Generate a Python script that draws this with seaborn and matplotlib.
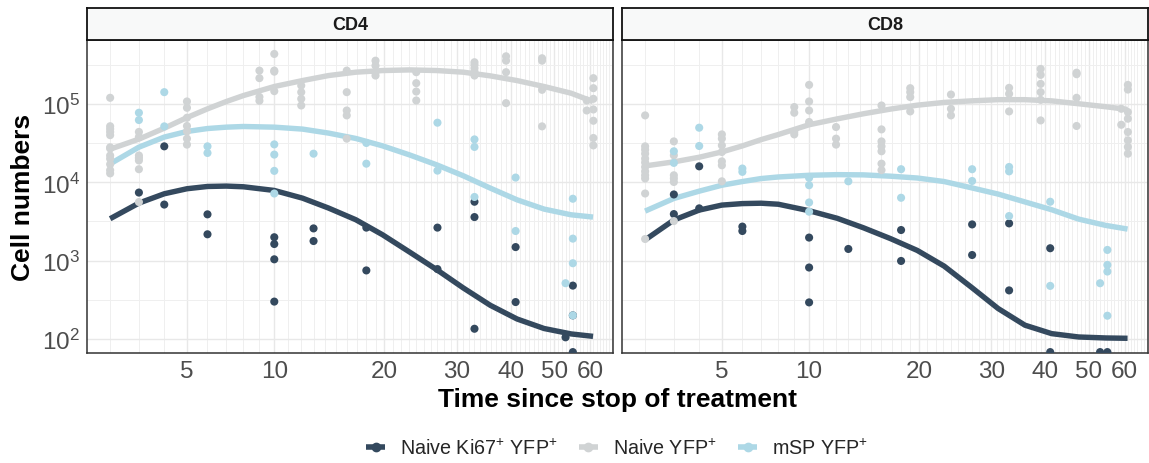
import numpy as np
import pandas as pd
import matplotlib
matplotlib.use("Agg")
import matplotlib.pyplot as plt
import seaborn as sns
from matplotlib.lines import Line2D

# ---------------- data ----------------
panels = ["CD4", "CD8"]
populations = ["Naive Ki67+ YFP+", "Naive YFP+", "mSP YFP+"]
legend_labels = [r"Naive Ki67$\mathregular{^{+}}$ YFP$\mathregular{^{+}}$",
                 r"Naive YFP$\mathregular{^{+}}$",
                 r"mSP YFP$\mathregular{^{+}}$"]
colors = ["#34495e", "#d0d3d4", "#add8e6"]

x_major_ticks = [5, 10, 20, 30, 40, 50, 60]
y_major_ticks = [1e2, 1e3, 1e4, 1e5]
y_tick_labels = [r"$\mathregular{10^{2}}$", r"$\mathregular{10^{3}}$",
                 r"$\mathregular{10^{4}}$", r"$\mathregular{10^{5}}$"]

# --- CD4 observed points ---
cd4_ki67_t = [3, 4, 4, 6, 6, 10, 10, 10, 10, 13, 13, 18, 18, 27, 27, 33, 33, 33, 41, 41, 53, 55, 55, 55]
cd4_ki67_v = [7400, 28800, 5200, 3900, 2170, 1990, 1630, 1040, 300, 2580, 1780, 2640, 750, 2640, 780,
              5650, 3600, 135, 1490, 296, 105, 480, 200, 68]
cd4_naive_t = [2]*12 + [3]*7 + [5]*7 + [9]*4 + [10]*4 + [12]*4 + [16]*5 + [19]*4 + [24]*4 + [33]*5 + [39]*4 + [47]*4 + [59]*2 + [61]*7
cd4_naive_v = [120000, 52000, 48000, 44000, 40000, 28000, 27000, 22000, 20000, 17000, 14300, 13000,
               44000, 38000, 22000, 20500, 19000, 14700, 5600,
               107700, 89500, 66700, 52400, 44700, 36100, 30300,
               266700, 213800, 123000, 110000,
               435500, 266700, 258800, 145900,
               171800, 141600, 116400, 95700,
               266700, 141600, 82600, 71500, 36100,
               357300, 309000, 254700, 230700,
               254700, 184500, 144200, 110900,
               341200, 315500, 286400, 259400, 230700,
               406400, 357300, 254700, 102600,
               383700, 357300, 151700, 51800,
               110900, 82600,
               213800, 159200, 116400, 85100, 61100, 36800, 29600]
cd4_msp_t = [3, 3, 4, 4, 6, 6, 10, 10, 10, 10, 13, 18, 18, 27, 27, 33, 33, 33, 41, 41, 53, 55, 55, 55, 55]
cd4_msp_v = [77300, 62400, 141600, 51800, 28800, 23700, 30500, 22600, 14000, 7200, 23200, 31800, 17300,
             57700, 14100, 35300, 28300, 6500, 11500, 2390, 515, 6170, 1910, 927, 200]

# --- CD8 observed points ---
cd8_ki67_t = [3, 3, 4, 4, 6, 6, 10, 10, 10, 13, 18, 18, 27, 27, 33, 33, 41, 41, 53, 55]
cd8_ki67_v = [7000, 3930, 16000, 4650, 2720, 2390, 1970, 817, 293, 1410, 2460, 991, 2900, 1180,
              2990, 417, 1440, 68, 68, 68]
cd8_naive_t = [2]*12 + [3]*6 + [5]*7 + [9]*4 + [10]*4 + [12]*3 + [16]*7 + [19]*4 + [24]*3 + [33]*3 + [39]*6 + [47]*4 + [59]*2 + [61]*8
cd8_naive_v = [71500, 28800, 26100, 23200, 20100, 17900, 15700, 13800, 12300, 11200, 7200, 1890,
               33300, 22100, 12300, 11200, 10100, 3200,
               40900, 36100, 29600, 24400, 18500, 16500, 10300,
               91400, 77300, 43900, 40900,
               175400, 107700, 82600, 58900,
               50800, 36100, 30300,
               95700, 47400, 33300, 28800, 24900, 17300, 14300,
               159200, 141600, 122500, 80400,
               132100, 86900, 71500,
               160700, 134900, 80400,
               280500, 235500, 180700, 141600, 113000, 61700,
               251000, 240000, 120000, 52400,
               86900, 54300,
               175400, 152800, 78900, 64900, 43900, 34400, 28300, 23200]
cd8_msp_t = [3, 3, 4, 4, 6, 6, 10, 10, 10, 10, 13, 18, 18, 27, 27, 33, 33, 33, 41, 41, 53, 55, 55, 55, 55]
cd8_msp_v = [24900, 17700, 49800, 29100, 15000, 13600, 11400, 9180, 5530, 4220, 10300, 14700, 6350,
             14700, 10400, 15700, 13800, 3710, 5650, 476, 515, 1370, 881, 726, 198]

# --- fitted curves ---
fit_t = [2, 3, 4, 5, 6, 7, 8, 10, 12.1, 14.3, 16.9, 19.8, 23.1, 26.9, 31.1, 35.9, 41.3, 47.5, 54.5, 60.9]
cd4_ki67_fit_v = [3430, 5430, 7140, 8280, 8850, 8950, 8770, 7870, 6280, 4690, 3330, 2140, 1290, 766,
                  447, 269, 180, 136, 116, 108]
cd4_naive_fit_v = [26500, 35600, 49100, 67100, 86700, 107400, 128200, 167100, 199100, 230700, 254700,
                   267300, 272300, 267300, 254700, 228600, 199100, 167100, 137400, 107400]
cd4_msp_fit_v = [17200, 28100, 37800, 44600, 48600, 50600, 51600, 50600, 47800, 42500, 36300, 29200,
                 22400, 16700, 12100, 8430, 5980, 4550, 3850, 3600]
cd8_ki67_fit_v = [1840, 3300, 4420, 5120, 5350, 5410, 5250, 4340, 3470, 2630, 1910, 1350, 851, 457,
                  245, 150, 117, 106, 103, 102]
cd8_naive_fit_v = [16200, 18240, 20900, 24430, 29170, 35080, 40740, 54330, 64570, 74990, 86100, 96600,
                   104700, 109600, 113500, 113500, 109600, 100700, 92300, 85100]
cd8_msp_fit_v = [4290, 6220, 7710, 9180, 10230, 11170, 11700, 12300, 12530, 12450, 11970, 11350,
                 10230, 8510, 7080, 5620, 4470, 3390, 2820, 2530]

# ---------------- tidy tables ----------------
def frame(panel, pop, t, v):
    return pd.DataFrame({"panel": panel, "pop": pop, "t": t, "v": v})

points = pd.concat([
    frame("CD4", populations[0], cd4_ki67_t, cd4_ki67_v),
    frame("CD4", populations[1], cd4_naive_t, cd4_naive_v),
    frame("CD4", populations[2], cd4_msp_t, cd4_msp_v),
    frame("CD8", populations[0], cd8_ki67_t, cd8_ki67_v),
    frame("CD8", populations[1], cd8_naive_t, cd8_naive_v),
    frame("CD8", populations[2], cd8_msp_t, cd8_msp_v),
], ignore_index=True)
fits = pd.concat([
    frame("CD4", populations[0], fit_t, cd4_ki67_fit_v),
    frame("CD4", populations[1], fit_t, cd4_naive_fit_v),
    frame("CD4", populations[2], fit_t, cd4_msp_fit_v),
    frame("CD8", populations[0], fit_t, cd8_ki67_fit_v),
    frame("CD8", populations[1], fit_t, cd8_naive_fit_v),
    frame("CD8", populations[2], fit_t, cd8_msp_fit_v),
], ignore_index=True)

palette = dict(zip(populations, colors))

# ---------------- style ----------------
sns.set_theme(style="white")
plt.rcParams["font.family"] = ["Liberation Sans", "DejaVu Sans"]
plt.rcParams["mathtext.fontset"] = "custom"
plt.rcParams["mathtext.rm"] = "Liberation Sans"
plt.rcParams["mathtext.it"] = "Liberation Sans:italic"
plt.rcParams["mathtext.bf"] = "Liberation Sans:bold"

W, H = 1149, 464
fig = plt.figure(figsize=(W / 100, H / 100), dpi=100)


def box(x0, y0, x1, y1):
    return [x0 / W, 1 - y1 / H, (x1 - x0) / W, (y1 - y0) / H]


def fwd(x):
    return np.log10(np.asarray(x, dtype=float) + 5)


def inv(y):
    return 10 ** np.asarray(y, dtype=float) - 5


panel_boxes = [(86.7, 41, 613.3, 354.3), (621.7, 41, 1147.8, 354.3)]
tick_col = "#4d4d4d"
frame_col = "#333333"

for i, (panel, pb) in enumerate(zip(panels, panel_boxes)):
    ax = fig.add_axes(box(*pb))
    sub_fit = fits[fits["panel"] == panel]
    sub_pts = points[points["panel"] == panel]
    sns.lineplot(data=sub_fit, x="t", y="v", hue="pop", hue_order=populations, palette=palette,
                 estimator=None, sort=True, linewidth=3.9, legend=False, ax=ax, zorder=2,
                 solid_capstyle="butt", solid_joinstyle="round")
    sns.scatterplot(data=sub_pts, x="t", y="v", hue="pop", hue_order=populations, palette=palette,
                    s=34, linewidth=0, legend=False, ax=ax, zorder=3, clip_on=True)
    ax.set_xscale("function", functions=(fwd, inv))
    ax.set_yscale("log")
    ax.set_xlim(1.278, 67.4)
    ax.set_ylim(10 ** 1.817, 10 ** 5.817)

    ax.set_xticks(x_major_ticks)
    ax.set_xticklabels([str(v) for v in x_major_ticks])
    ax.set_xticks([v for v in range(2, 68) if v not in x_major_ticks], minor=True)
    ax.set_yticks(y_major_ticks)
    ax.set_yticks([10 ** 2.5, 10 ** 3.5, 10 ** 4.5, 10 ** 5.5], minor=True)
    if i == 0:
        ax.set_yticklabels(y_tick_labels)
    else:
        ax.set_yticklabels([])
    ax.yaxis.set_minor_formatter(plt.NullFormatter())
    ax.xaxis.set_minor_formatter(plt.NullFormatter())

    ax.grid(True, which="major", color="#e8e8e8", linewidth=1.0, zorder=0)
    ax.grid(True, which="minor", color="#efefef", linewidth=0.7, zorder=0)
    ax.set_axisbelow(True)

    ax.tick_params(axis="both", which="major", direction="out", length=3.1, width=0.8,
                   color=frame_col, labelcolor=tick_col, labelsize=17.5, pad=1.8)
    ax.tick_params(axis="both", which="minor", length=0)
    if i == 1:
        ax.tick_params(axis="y", which="major", length=0)
    ax.set_xlabel("")
    ax.set_ylabel("")
    for s in ax.spines.values():
        s.set_visible(True)
        s.set_color(frame_col)
        s.set_linewidth(1.1)

    # facet strip
    sx0, _, sx1, _ = pb
    sax = fig.add_axes(box(sx0, 9.3, sx1, 41))
    sax.set_facecolor("#f8f9f9")
    sax.set_xticks([])
    sax.set_yticks([])
    for s in sax.spines.values():
        s.set_visible(True)
        s.set_color("#111111")
        s.set_linewidth(1.3)
    sax.text(0.5, 0.5, panel, ha="center", va="center", fontsize=13, fontweight="bold",
             color="#1a1a1a", transform=sax.transAxes)

fig.text(617 / W, 1 - 400 / H, "Time since stop of treatment", ha="center", va="center",
         fontsize=19, fontweight="bold", color="black")
fig.text(23 / W, 1 - 197.6 / H, "Cell numbers", ha="center", va="center", rotation=90,
         fontsize=19, fontweight="bold", color="black")

handles = [Line2D([], [], color=c, lw=4, marker="o", markersize=6, solid_capstyle="butt")
           for c in colors]
fig.legend(handles, legend_labels, loc="center", bbox_to_anchor=(617 / W, 1 - 449 / H),
           ncol=3, frameon=False, fontsize=14.2, handlelength=0.95, handletextpad=0.75,
           columnspacing=1.1, borderaxespad=0, borderpad=0)

fig.savefig("out.png", dpi=100)
